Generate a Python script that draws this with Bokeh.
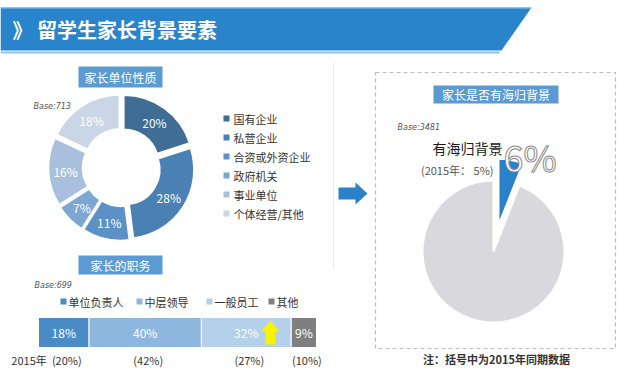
import math
from bokeh.plotting import figure
from bokeh.models import Range1d
from bokeh.core.properties import value
from bokeh.embed import file_html
from bokeh.resources import INLINE

# ---------------- data ----------------
title_text = "》 留学生家长背景要素"

unit_title = "家长单位性质"
unit_base = "Base:713"
unit_types = ["国有企业", "私营企业", "合资或外资企业", "政府机关", "事业单位", "个体经营/其他"]
unit_pct = [20, 28, 11, 7, 16, 18]

role_title = "家长的职务"
role_base = "Base:699"
role_types = ["单位负责人", "中层领导", "一般员工", "其他"]
role_pct = [18, 40, 32, 9]
role_pct_2015 = [20, 42, 27, 10]
role_year_label = "2015年"

overseas_title = "家长是否有海归背景"
overseas_base = "Base:3481"
overseas_labels = ["有海归背景", "无海归背景"]
overseas_pct = [6, 94]
overseas_pct_2015 = 5
note_text = "注：括号中为2015年同期数据"

# ---------------- styles ----------------
FONT = value("Noto Sans CJK SC")
unit_colors = ["#3f6d95", "#4a80b3", "#5b91c6", "#7da6d1", "#a8c0dd", "#cad6e6"]
role_colors = ["#4b8cc6", "#8db7de", "#b5d0ea", "#7f7f80"]
pie_colors = ["#2a80c9", "#d9d9dd"]
BOX = "#5b9bd3"

W, H = 640, 384
def Y(y):
    return H - y

p = figure(width=W, height=H, x_range=Range1d(0, W), y_range=Range1d(0, H),
           output_backend="svg", toolbar_location=None, min_border=0,
           x_axis_type=None, y_axis_type=None)
p.grid.visible = False
p.outline_line_color = None
p.background_fill_color = "white"
p.border_fill_color = "white"

# ---------------- title bar ----------------
p.patch([0, 531, 501, 0], [Y(7), Y(7), Y(50), Y(50)], fill_color="#2a84cc", line_color=None)
p.line([0, 531], [Y(7.5), Y(7.5)], line_color="#8cc3ee", line_width=1)
p.line([0, 499], [Y(52), Y(52)], line_color="#8cc3ee", line_width=2)
p.text(x=[12], y=[Y(29)], text=[title_text], text_font=FONT, text_font_size="20px",
       text_font_style="bold", text_color="white", text_baseline="middle", text_align="left")

# faint separator
p.line([333, 333], [Y(62), Y(268)], line_color="#ececec", line_width=1)

def label_box(x0, x1, y0, y1, txt, size="12px"):
    p.quad(left=[x0], right=[x1], top=[Y(y0)], bottom=[Y(y1)], fill_color=BOX, line_color=None)
    p.text(x=[(x0 + x1) / 2], y=[Y((y0 + y1) / 2)], text=[txt], text_font=FONT,
           text_font_size=size, text_color="white", text_align="center", text_baseline="middle")

# ---------------- donut ----------------
label_box(78, 162, 66, 87, unit_title)
p.text(x=[33], y=[Y(106)], text=[unit_base], text_font=value("DejaVu Sans"), text_font_size="8px",
       text_font_style="italic", text_color="#555555", text_baseline="middle")

cx, cy = 121, Y(167)
r_in, r_out, expl = 35, 69, 4
cum = 0
for i, v in enumerate(unit_pct):
    a_start = 90 - (cum + v) * 3.6
    a_end = 90 - cum * 3.6
    mid = math.radians((a_start + a_end) / 2)
    ox, oy = cx + expl * math.cos(mid), cy + expl * math.sin(mid)
    p.annular_wedge(x=[ox], y=[oy], inner_radius=r_in, outer_radius=r_out,
                    start_angle=a_start, end_angle=a_end, start_angle_units="deg",
                    end_angle_units="deg", fill_color=unit_colors[i], line_color="white",
                    line_width=1.5)
    rl = (r_in + r_out) / 2 + expl
    p.text(x=[cx + rl * math.cos(mid)], y=[cy + rl * math.sin(mid)], text=[f"{v}%"],
           text_font=FONT, text_font_size="12px", text_color="white",
           text_align="center", text_baseline="middle")
    cum += v

for i, name in enumerate(unit_types):
    yy = Y(118 + i * 19)
    p.rect(x=[226], y=[yy], width=6, height=6, fill_color=unit_colors[i], line_color=None)
    p.text(x=[233], y=[yy], text=[name], text_font=FONT, text_font_size="11px",
           text_color="#333333", text_align="left", text_baseline="middle")

# ---------------- role bar ----------------
label_box(78, 162, 255, 274, role_title)
p.text(x=[34], y=[Y(285)], text=[role_base], text_font=value("DejaVu Sans"), text_font_size="8px",
       text_font_style="italic", text_color="#555555", text_baseline="middle")

leg_x = [63, 139, 209, 271]
for i, name in enumerate(role_types):
    p.rect(x=[leg_x[i]], y=[Y(301)], width=6, height=6, fill_color=role_colors[i], line_color=None)
    p.text(x=[leg_x[i] + 5], y=[Y(301)], text=[name], text_font=FONT, text_font_size="11px",
           text_color="#333333", text_align="left", text_baseline="middle")

bx0, bx1 = 38, 316
scale = (bx1 - bx0) / sum(role_pct)
cum = 0
centers = []
for i, v in enumerate(role_pct):
    l = bx0 + cum * scale
    r = bx0 + (cum + v) * scale
    p.quad(left=[l], right=[r], top=[Y(317)], bottom=[Y(347)], fill_color=role_colors[i],
           line_color="white", line_width=1)
    c = (l + r) / 2
    centers.append(c)
    p.text(x=[c], y=[Y(332)], text=[f"{v}%"], text_font=FONT, text_font_size="12px",
           text_color="white", text_align="center", text_baseline="middle")
    p.text(x=[c + 3], y=[Y(359)], text=[f"({role_pct_2015[i]}%)"], text_font=FONT,
           text_font_size="11px", text_color="#333333", text_align="center", text_baseline="middle")
    cum += v
p.text(x=[centers[0] - 17], y=[Y(359)], text=[role_year_label], text_font=FONT,
       text_font_size="11px", text_color="#333333", text_align="right", text_baseline="middle")

# yellow up arrow (rise of 一般员工)
ax = centers[2] + 24
p.patch([ax, ax + 9, ax + 5, ax + 5, ax - 5, ax - 5, ax - 9],
        [Y(320), Y(331), Y(331), Y(344), Y(344), Y(331), Y(331)],
        fill_color="#f8f400", line_color=None)

# ---------------- blue arrow ----------------
p.patch([338, 355, 355, 367, 355, 355, 338],
        [Y(187), Y(187), Y(182), Y(193), Y(204), Y(199), Y(199)],
        fill_color="#2a80c9", line_color=None)

# ---------------- right panel ----------------
p.quad(left=[375], right=[615], top=[Y(72)], bottom=[Y(348)], fill_color=None,
       line_color="#bdbdbd", line_width=1.2, line_dash="4 3")
label_box(433, 558, 85, 103, overseas_title)
p.text(x=[397], y=[Y(127)], text=[overseas_base], text_font=value("DejaVu Sans"), text_font_size="8px",
       text_font_style="italic", text_color="#555555", text_baseline="middle")

pcx, pcy, pr = 493, Y(251), 71
yes_v = overseas_pct[0]
a0 = 90 - yes_v * 3.6
# gray part
p.wedge(x=[pcx], y=[pcy], radius=pr, start_angle=90, end_angle=a0 + 360,
        start_angle_units="deg", end_angle_units="deg", fill_color=pie_colors[1],
        line_color="white", line_width=2)
# exploded blue slice
mid = math.radians((a0 + 90) / 2)
e = 28
p.wedge(x=[pcx + e * math.cos(mid)], y=[pcy + e * math.sin(mid)], radius=65,
        start_angle=a0, end_angle=90, start_angle_units="deg", end_angle_units="deg",
        fill_color=pie_colors[0], line_color="white", line_width=1.5)

p.text(x=[502], y=[Y(147)], text=[overseas_labels[0]], text_font=FONT, text_font_size="14px",
       text_color="#1a1a1a", text_align="right", text_baseline="middle")
p.text(x=[503], y=[Y(155)], text=[f"{yes_v}%"], text_font=FONT, text_font_size="36px",
       text_color="white", text_outline_color="#8a8a8a", text_align="left", text_baseline="middle")
p.text(x=[493], y=[Y(169)], text=[f"(2015年： {overseas_pct_2015}%)"], text_font=FONT,
       text_font_size="11px", text_color="#555555", text_align="right", text_baseline="middle")

p.text(x=[496], y=[Y(358)], text=[note_text], text_font=FONT, text_font_size="11px",
       text_font_style="bold", text_color="#333333", text_align="center", text_baseline="middle")

open("out.html", "w").write(file_html(p, INLINE))
